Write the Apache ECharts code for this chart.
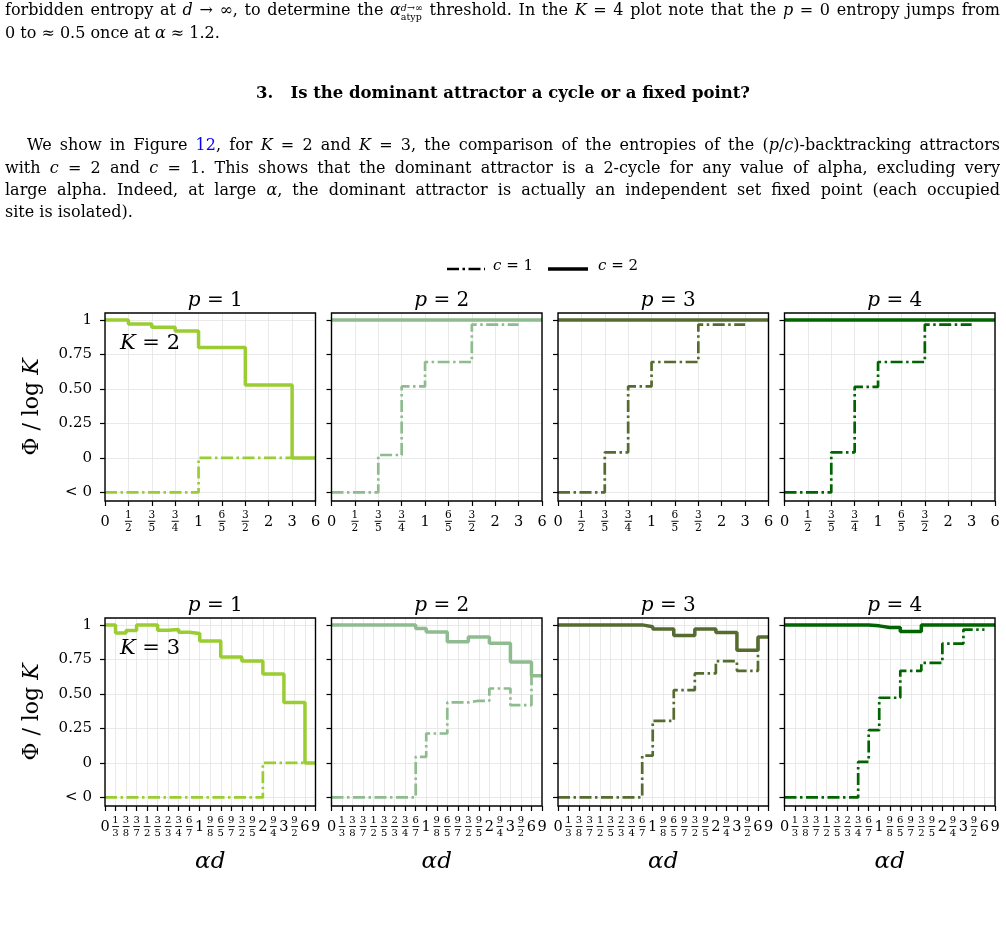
<!DOCTYPE html>
<html>
<head>
<meta charset="utf-8">
<script src="https://cdn.jsdelivr.net/npm/echarts@6/dist/echarts.min.js"></script>
<style>
  html, body { margin: 0; padding: 0; background: #fff; }
  #page { position: relative; width: 1006px; height: 944px; overflow: hidden; }
  #chart { position: absolute; left: 0; top: 0; width: 1006px; height: 944px; }
  .ln { position: absolute; left: 5px; font-family: "DejaVu Serif", serif; font-size: 16px; line-height: 22px; color: #000; white-space: nowrap; }
  .ss { display: inline-block; vertical-align: -5px; line-height: 9px; font-size: 9.5px; text-align: left; }
  h3 { position: absolute; left: 0; width: 1006px; top: 82px; margin: 0; text-align: center; font-family: "DejaVu Serif", serif; font-size: 16.5px; line-height: 22px; font-weight: bold; }
  a { color: #00f; text-decoration: none; }
</style>
</head>
<body>
<div id="page">
  <div id="chart"></div>
  <div class="ln j" data-w="995" style="top:-1px">forbidden entropy at <i>d</i> → ∞, to determine the <i>α</i><span class="ss"><i>d</i>→∞<br>atyp</span> threshold. In the <i>K</i> = 4 plot note that the <i>p</i> = 0 entropy jumps from</div>
  <div class="ln" style="top:22px">0 to ≈ 0.5 once at <i>α</i> ≈ 1.2.</div>
  <h3>3.&nbsp;&nbsp;&nbsp;Is the dominant attractor a cycle or a fixed point?</h3>
  <div class="ln j" data-w="973" style="top:134px; left:27px">We show in Figure <a>12</a>, for <i>K</i> = 2 and <i>K</i> = 3, the comparison of the entropies of the (<i>p</i>/<i>c</i>)-backtracking attractors</div>
  <div class="ln j" data-w="995" style="top:157px">with <i>c</i> = 2 and <i>c</i> = 1. This shows that the dominant attractor is a 2-cycle for any value of alpha, excluding very</div>
  <div class="ln j" data-w="995" style="top:179px">large alpha. Indeed, at large <i>α</i>, the dominant attractor is actually an independent set fixed point (each occupied</div>
  <div class="ln" style="top:201px">site is isolated).</div>
</div>
<script>
// x tick labels (evenly spaced categories of alpha*d)
var ticksK2 = ['0', '1/2', '3/5', '3/4', '1', '6/5', '3/2', '2', '3', '6'];
var ticksK3 = ['0', '1/3', '3/8', '3/7', '1/2', '3/5', '2/3', '3/4', '6/7', '1', '9/8', '6/5', '9/7', '3/2', '9/5', '2', '9/4', '3', '9/2', '6', '9'];
var yTicks = [-0.25, 0, 0.25, 0.5, 0.75, 1];
var pLabels = ['1', '2', '3', '4'];

// Phi/log K per step, -0.25 is the "< 0" level
// K = 2
var k2p1c2 = [1.0, 0.971, 0.947, 0.92, 0.80, 0.80, 0.529, 0.529, 0, 0];
var k2p1c1 = [-0.25, -0.25, -0.25, -0.25, 0, 0, 0, 0, 0];
var k2p2c2 = [1, 1, 1, 1, 1, 1, 1, 1, 1, 1];
var k2p2c1 = [-0.25, -0.25, 0.021, 0.518, 0.695, 0.695, 0.966, 0.966, 0.966];
var k2p3c2 = [1, 1, 1, 1, 1, 1, 1, 1, 1, 1];
var k2p3c1 = [-0.25, -0.25, 0.04, 0.518, 0.695, 0.695, 0.966, 0.966, 0.966];
var k2p4c2 = [1, 1, 1, 1, 1, 1, 1, 1, 1, 1];
var k2p4c1 = [-0.25, -0.25, 0.04, 0.515, 0.695, 0.695, 0.966, 0.966, 0.966];
// K = 3
var k3p1c2 = [1.0, 0.942, 0.959, 1.0, 1.0, 0.961, 0.966, 0.947, 0.937, 0.884, 0.884, 0.768, 0.768, 0.739, 0.739, 0.645, 0.645, 0.438, 0.438, 0, 0];
var k3p1c1 = [-0.25, -0.25, -0.25, -0.25, -0.25, -0.25, -0.25, -0.25, -0.25, -0.25, -0.25, -0.25, -0.25, -0.25, -0.25, 0, 0, 0, 0, 0];
var k3p2c2 = [1, 1, 1, 1, 1, 1, 1, 1, 0.973, 0.949, 0.949, 0.877, 0.877, 0.913, 0.913, 0.867, 0.867, 0.732, 0.732, 0.631, 0.631];
var k3p2c1 = [-0.25, -0.25, -0.25, -0.25, -0.25, -0.25, -0.25, -0.25, 0.044, 0.213, 0.213, 0.438, 0.438, 0.450, 0.450, 0.539, 0.539, 0.418, 0.418, 0.631];
var k3p3c2 = [1, 1, 1, 1, 1, 1, 1, 1, 0.986, 0.971, 0.971, 0.923, 0.923, 0.971, 0.971, 0.945, 0.945, 0.817, 0.817, 0.913, 0.913];
var k3p3c1 = [-0.25, -0.25, -0.25, -0.25, -0.25, -0.25, -0.25, -0.25, 0.052, 0.305, 0.305, 0.527, 0.527, 0.648, 0.648, 0.737, 0.737, 0.667, 0.667, 0.913];
var k3p4c2 = [1, 1, 1, 1, 1, 1, 1, 1, 0.993, 0.981, 0.981, 0.952, 0.952, 1, 1, 1, 1, 1, 1, 1, 1];
var k3p4c1 = [-0.25, -0.25, -0.25, -0.25, -0.25, -0.25, -0.25, 0.008, 0.237, 0.472, 0.472, 0.667, 0.667, 0.725, 0.725, 0.865, 0.865, 0.966, 0.966, 0.97];

// stretch the full text lines to the column width
document.querySelectorAll('.j').forEach(function (el) {
  var target = +el.getAttribute('data-w');
  var natural = el.getBoundingClientRect().width;
  var spaces = (el.textContent.match(/ /g) || []).length;
  el.style.wordSpacing = ((target - natural) / spaces) + 'px';
});

var colors = ['#9acd32', '#8fbc8f', '#556b2f', '#006400'];
var rows = [
  { K: '2', ticks: ticksK2, c2: [k2p1c2, k2p2c2, k2p3c2, k2p4c2], c1: [k2p1c1, k2p2c1, k2p3c1, k2p4c1], top: 313, fs: 10.5 },
  { K: '3', ticks: ticksK3, c2: [k3p1c2, k3p2c2, k3p3c2, k3p4c2], c1: [k3p1c1, k3p2c1, k3p3c1, k3p4c1], top: 618, fs: 10 }
];
var lefts = [105, 331.5, 558, 784.5];
var W = 210.5, H = 188;
var serif = '"DejaVu Serif", serif';
var dashDot = [12, 3.5, 2.5, 3.5];

function fracLabel(s) {
  if (s.indexOf('/') > 0) {
    var p = s.split('/');
    return '{n|' + p[0] + '}\n{b|─}\n{d|' + p[1] + '}';
  }
  return '{i|' + s + '}';
}
function tickRich(fs) {
  return {
    n: { fontSize: fs, lineHeight: 11, fontFamily: serif, color: '#000' },
    d: { fontSize: fs, lineHeight: 11, fontFamily: serif, color: '#000' },
    b: { fontSize: fs + 1, lineHeight: 2, fontFamily: '"DejaVu Sans Mono", monospace', color: '#000' },
    i: { fontSize: 14.5, lineHeight: 24, fontFamily: serif, color: '#000' }
  };
}

var grid = [], xAxis = [], yAxis = [], series = [], title = [];
rows.forEach(function (row, r) {
  lefts.forEach(function (left, c) {
    var g = grid.length;
    grid.push({ left: left, top: row.top, width: W, height: H, show: true, z: 10, borderColor: '#000', borderWidth: 1.4, backgroundColor: 'transparent', containLabel: false });
    xAxis.push({
      type: 'value', gridIndex: g, min: 0, max: row.ticks.length - 1, interval: 1,
      axisLine: { show: false, onZero: false },
      axisTick: { show: true, length: 5, lineStyle: { color: '#000', width: 1.2 } },
      splitLine: { show: true, lineStyle: { color: '#e3e3e3', width: 0.8 } },
      axisLabel: {
        margin: 9, color: '#000',
        formatter: (function (t) { return function (v) { return fracLabel(t[Math.round(v)]); }; })(row.ticks),
        rich: tickRich(row.fs)
      },
      name: r === 1 ? '{i|αd}' : '',
      nameLocation: 'middle', nameGap: 45,
      nameTextStyle: { rich: { i: { fontSize: 23, fontStyle: 'italic', fontFamily: serif, color: '#000' } } }
    });
    yAxis.push({
      type: 'value', gridIndex: g, min: -0.3125, max: 1.05,
      axisLine: { show: false, onZero: false },
      axisTick: { show: true, length: 5, customValues: yTicks, lineStyle: { color: '#000', width: 1.2 } },
      splitLine: { show: true, lineStyle: { color: '#e3e3e3', width: 0.8 } },
      axisLabel: {
        show: c === 0, customValues: yTicks, margin: 13, color: '#000', fontSize: 15, fontFamily: serif,
        formatter: function (v) {
          if (v < 0) return '< 0';
          if (v === 0) return '0';
          if (v === 1) return '1';
          return v.toFixed(2);
        }
      },
      name: c === 0 ? '{a|Φ / log }{i|K}' : '',
      nameLocation: 'middle', nameGap: 62, nameRotate: 90,
      nameTextStyle: { rich: {
        a: { fontSize: 22, fontFamily: serif, color: '#000' },
        i: { fontSize: 22, fontFamily: serif, fontStyle: 'italic', color: '#000' }
      } }
    });
    series.push({
      type: 'line', xAxisIndex: g, yAxisIndex: g, step: 'end', showSymbol: false, silent: true, z: 2,
      data: row.c1[c].map(function (v, i) { return [i, v]; }),
      lineStyle: { color: colors[c], width: 2.7, type: dashDot }
    });
    series.push({
      type: 'line', xAxisIndex: g, yAxisIndex: g, step: 'end', showSymbol: false, silent: true, z: 3,
      data: row.c2[c].map(function (v, i) { return [i, v]; }),
      lineStyle: { color: colors[c], width: 3.5 }
    });
    title.push({
      text: '{i|p}{n| = ' + pLabels[c] + '}',
      left: left + W / 2, top: row.top - 27, textAlign: 'center',
      textStyle: { rich: {
        i: { fontSize: 20, fontStyle: 'italic', fontWeight: 'normal', fontFamily: serif, color: '#000' },
        n: { fontSize: 20, fontWeight: 'normal', fontFamily: serif, color: '#000' }
      } }
    });
  });
  title.push({
    text: '{i|K}{n| = ' + row.K + '}',
    left: 115, top: row.top + 15,
    textStyle: { rich: {
      i: { fontSize: 21, fontStyle: 'italic', fontWeight: 'normal', fontFamily: serif, color: '#000' },
      n: { fontSize: 21, fontWeight: 'normal', fontFamily: serif, color: '#000' }
    } }
  });
});

var legendRich = {
  i: { fontStyle: 'italic', fontSize: 15, fontFamily: serif, fill: '#000' },
  n: { fontSize: 15, fontFamily: serif, fill: '#000' }
};
var chart = echarts.init(document.getElementById('chart'), null, { renderer: 'canvas' });
chart.setOption({
  animation: false,
  backgroundColor: 'transparent',
  title: title,
  grid: grid,
  xAxis: xAxis,
  yAxis: yAxis,
  series: series,
  graphic: [
    { type: 'line', shape: { x1: 447, y1: 269, x2: 485, y2: 269 }, style: { stroke: '#000', lineWidth: 2.7, lineDash: dashDot } },
    { type: 'text', left: 493, top: 259, style: { text: '{i|c}{n| = 1}', rich: legendRich } },
    { type: 'line', shape: { x1: 548, y1: 269, x2: 588, y2: 269 }, style: { stroke: '#000', lineWidth: 3.5 } },
    { type: 'text', left: 598, top: 259, style: { text: '{i|c}{n| = 2}', rich: legendRich } }
  ]
});
</script>
</body>
</html>
